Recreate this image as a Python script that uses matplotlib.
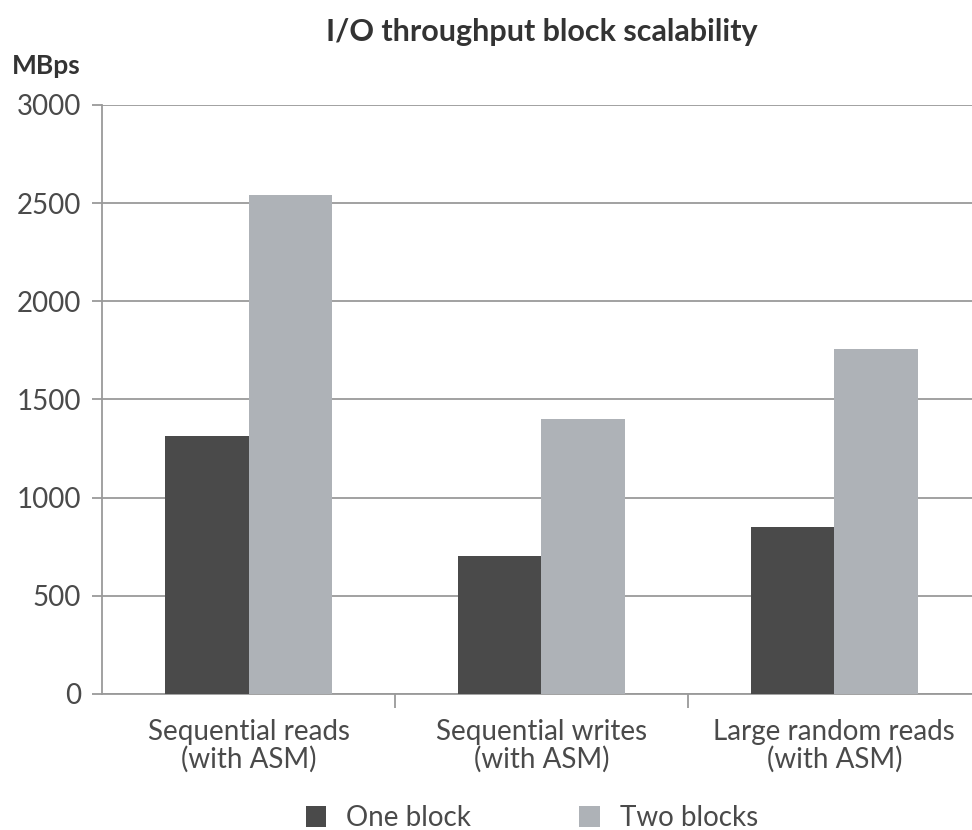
import matplotlib.pyplot as plt
import numpy as np

# DATA
categories = ["Sequential reads\n(with ASM)", "Sequential writes\n(with ASM)", "Large random reads\n(with ASM)"]
one_block = [1314, 703, 851]
two_blocks = [2542, 1401, 1757]
series_names = ["One block", "Two blocks"]
yticks = [0, 500, 1000, 1500, 2000, 2500, 3000]

DARK = "#4a4a4a"
LIGHT = "#aeb2b7"
GRID = "#9a9a9a"
TEXT = "#4a4a4a"

plt.rcParams["font.family"] = ["Lato", "DejaVu Sans"]

fig = plt.figure(figsize=(9.72, 8.3), dpi=100)
ax = fig.add_axes([0.105, 0.164, 0.895, 0.7095])

x = np.arange(len(categories))
w = 0.286
b1 = ax.bar(x - w / 2, one_block, w, color=DARK, label=series_names[0], zorder=3)
b2 = ax.bar(x + w / 2, two_blocks, w, color=LIGHT, label=series_names[1], zorder=3)

ax.set_ylim(0, 3000)
ax.set_xlim(-0.5, 2.47)
ax.set_yticks(yticks)
ax.set_yticklabels([str(v) for v in yticks], fontsize=20, color=TEXT)
ax.yaxis.grid(True, color=GRID, lw=1.3, zorder=0)
ax.tick_params(axis="y", length=7, color=GRID, width=1.3, pad=8)

# category labels in the middle, ticks on the boundaries
ax.set_xticks([0.5, 1.5], minor=False)
ax.set_xticklabels([])
ax.tick_params(axis="x", length=10, color=GRID, width=1.3, direction="out")
ax.set_xticks(x, minor=True)
ax.set_xticklabels(categories, minor=True, fontsize=20, color=TEXT, linespacing=1.05)
ax.tick_params(axis="x", which="minor", length=0, pad=18)

for s in ["top", "right"]:
    ax.spines[s].set_visible(False)
for s in ["left", "bottom"]:
    ax.spines[s].set_color(GRID)
    ax.spines[s].set_linewidth(1.3)

fig.text(0.557, 0.962, "I/O throughput block scalability", ha="center", va="center",
         fontsize=22, fontweight="bold", color="#333333")
fig.text(0.012, 0.921, "MBps", ha="left", va="center", fontsize=19, fontweight="bold", color="#333333")

fig.legend(handles=[b1, b2], labels=series_names, loc="center", bbox_to_anchor=(0.547, 0.014),
           ncol=2, frameon=False, fontsize=20, handlelength=0.75, handleheight=0.8,
           columnspacing=3.9, handletextpad=0.7, labelcolor=TEXT)

fig.savefig("out.png", dpi=100)
